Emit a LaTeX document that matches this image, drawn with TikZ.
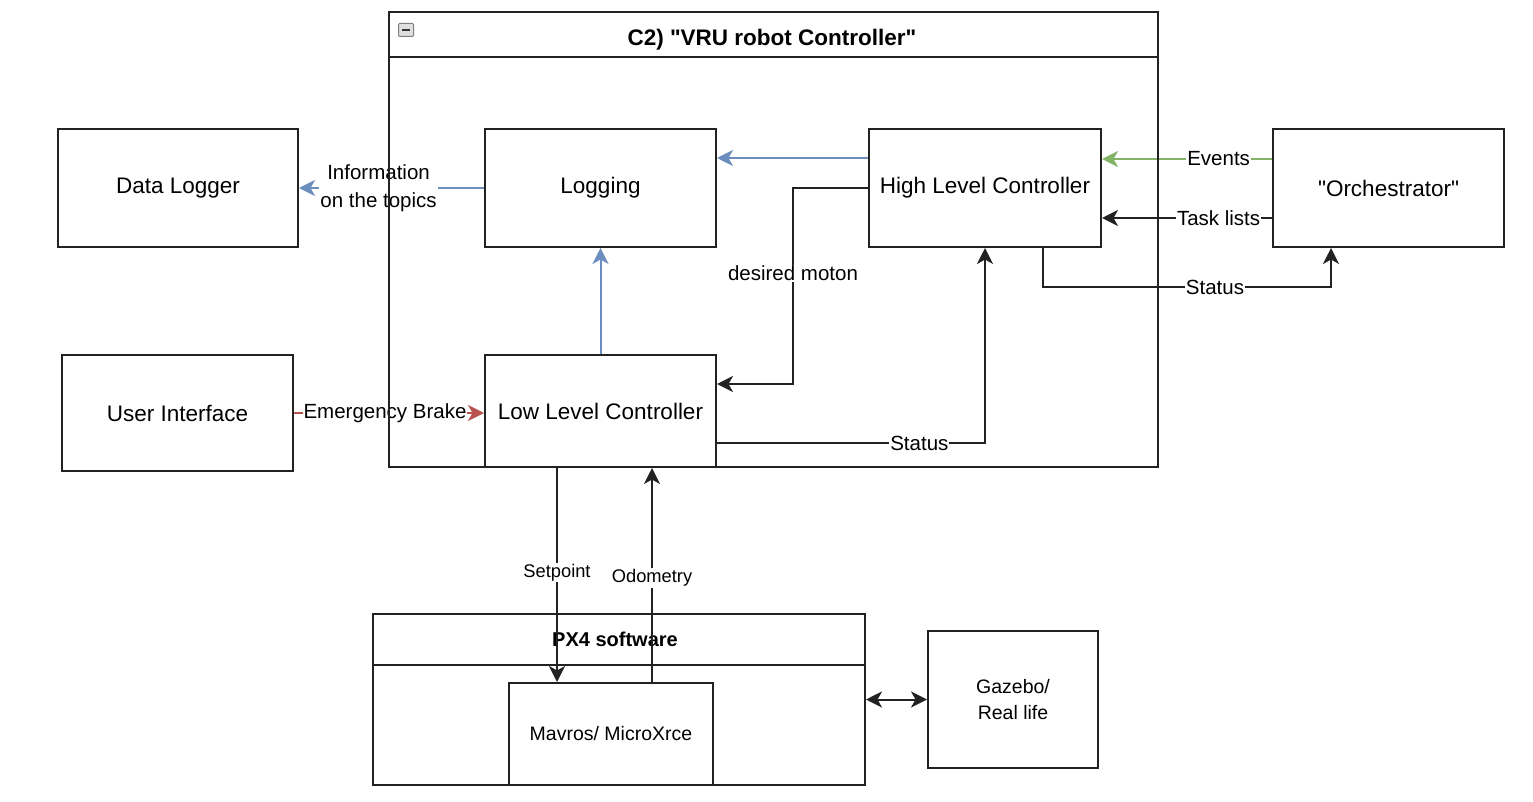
\documentclass[tikz,border=0pt]{standalone}
\usepackage{fontspec}
\setmainfont{Liberation Sans}[Ligatures=TeXOff]
\usetikzlibrary{arrows.meta,calc}
\definecolor{bluel}{HTML}{6C8EBF}
\definecolor{greenl}{HTML}{82B366}
\definecolor{redl}{HTML}{B85450}
\definecolor{edgec}{HTML}{222222}
\newcommand\bxfnt{\fontsize{22.5}{27}\selectfont}
\newcommand\lbfnt{\fontsize{20.5}{28}\selectfont}
\newcommand\smfnt{\fontsize{18.3}{22}\selectfont}
\newcommand\mvfnt{\fontsize{19.5}{26}\selectfont}
\begin{document}
\begin{tikzpicture}[x=1pt,y=-1pt,line width=2pt,
  box/.style={draw=edgec,fill=white,inner sep=0pt,font=\bxfnt,align=center},
  lbl/.style={fill=white,inner sep=1pt,font=\lbfnt,text=black,align=center},
  slbl/.style={fill=white,inner sep=1pt,font=\smfnt,text=black},
  tip/.style={-{Stealth[length=16pt,width=16pt,inset=4.5pt]}},
  dtip/.style={{Stealth[length=16pt,width=16pt,inset=4.5pt]}-{Stealth[length=16pt,width=16pt,inset=4.5pt]}},
  conn/.style={draw=edgec,tip},
  bconn/.style={draw=bluel,tip},
  gconn/.style={draw=greenl,tip},
  rconn/.style={draw=redl,tip}]
\useasboundingbox (0,0) rectangle (1533,802);
% PX4 software group
\node[box,minimum width=492pt,minimum height=171pt] (px4) at (619,699.5) {};
\draw[edgec] (px4.west |- 0,665) coordinate (px4h) -- (px4.east |- 0,665);
\node[font=\fontsize{20}{24}\selectfont\bfseries] (px4t) at (615,639) {PX4 software};
\node[box,minimum width=204pt,minimum height=102pt,font=\mvfnt] (mav) at (611,734) {Mavros/ MicroXrce};
\node[box,minimum width=170pt,minimum height=137pt,font=\mvfnt] (gaz) at (1013,699.5) {Gazebo/\\Real life};
% outer boxes
\node[box,minimum width=240pt,minimum height=118pt] (dl) at (178,188) {Data Logger};
\node[box,minimum width=231pt,minimum height=116pt] (ui) at (177.5,413) {User Interface};
\node[box,minimum width=231pt,minimum height=118pt] (orch) at (1388.5,188) {"Orchestrator"};
% inner boxes
\node[box,minimum width=231pt,minimum height=118pt] (log) at (600.5,188) {Logging};
\node[box,minimum width=232pt,minimum height=118pt] (hlc) at (985,188) {High Level Controller};
\node[box,minimum width=231pt,minimum height=112pt] (llc) at (600.5,411) {Low Level Controller};
% coordinates
\coordinate (dm) at (793,384);
\coordinate (st) at (985,443);
\coordinate (s2a) at (1043,287);
\coordinate (s2b) at (1331,287);
\coordinate (spx) at (557,0);
\coordinate (odx) at (652,0);
% edges
\draw[bconn] (log.west) -- node[lbl,pos=0.57]{Information\\on the topics} (dl.east);
\draw[bconn] ($(hlc.west)+(0,-30)$) -- ($(log.east)+(0,-30)$);
\draw[bconn] (llc.north) -- (log.south);
\draw[conn] (hlc.west) -| node[lbl,pos=0.717]{desired moton} (dm) -- (llc.east |- dm);
\draw[conn] (llc.east |- st) -- node[lbl,pos=0.755]{Status} (st) -- (hlc.south);
\draw[gconn] ($(orch.west)+(0,-29)$) -- node[lbl,pos=0.314]{Events} ($(hlc.east)+(0,-29)$);
\draw[conn] ($(orch.west)+(0,30)$) -- node[lbl,pos=0.314]{Task lists} ($(hlc.east)+(0,30)$);
\draw[conn] (s2a |- hlc.south) -- (s2a) -- node[lbl,pos=0.597]{Status} (s2b) -- (s2b |- orch.south);
\draw[rconn] (ui.east) -- node[lbl,pos=0.479]{Emergency Brake} (llc.west |- ui.east);
\draw[conn] (llc.south -| spx) -- node[slbl,pos=0.49]{Setpoint} (mav.north -| spx);
\draw[conn] (mav.north -| odx) -- node[slbl,pos=0.486]{Odometry} (llc.south -| odx);
\draw[draw=edgec,dtip] (px4.east) -- (gaz.west);
% VRU container
\node[draw=edgec,minimum width=769pt,minimum height=455pt,inner sep=0pt] (vru) at (773.5,239.5) {};
\draw[edgec] (vru.west |- 0,57) -- (vru.east |- 0,57);
\node[font=\bxfnt\bfseries] (vrut) at (772,40) {C2) "VRU robot Controller"};
\node[draw=gray,fill=gray!25,line width=1pt,rounded corners=1pt,minimum width=15pt,minimum height=13pt,inner sep=0pt] (icon) at (406,30) {};
\draw[line width=2pt,black!80] ($(icon.center)+(-4,0)$) -- ($(icon.center)+(4,0)$);
\end{tikzpicture}
\end{document}
